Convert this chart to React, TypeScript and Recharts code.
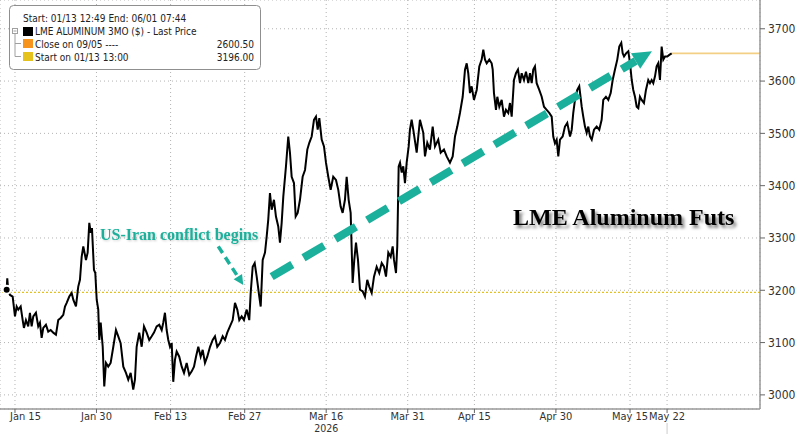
import React from "react";
import { LineChart, Line, XAxis, YAxis, CartesianGrid, ReferenceLine } from "recharts";

// x = trading days counted from Jan 15 (weekends and LME holidays skipped)
const DAYS = [
  -1.12, -1.04, -0.9, -0.67, -0.31, 0, 0.23, 0.45, 0.77, 1.04,
  1.21, 1.48, 1.79, 2.02, 2.25, 2.47, 2.83, 3.14, 3.37, 3.6,
  3.82, 4.18, 4.49, 4.82, 5.17, 5.53, 5.84, 6.17, 6.52, 6.75,
  6.98, 7.33, 7.65, 7.87, 8.23, 8.54, 8.77, 9.0, 9.22, 9.58,
  9.81, 10.03, 10.22, 10.39, 10.66, 10.84, 11.03, 11.24, 11.38, 11.57,
  11.84, 12.05, 12.28, 12.59, 12.91, 13.27, 13.63, 13.94, 14.26, 14.62,
  14.98, 15.29, 15.61, 15.96, 16.19, 16.42, 16.77, 17.1, 17.41, 17.77,
  18.12, 18.45, 18.76, 19.12, 19.47, 19.8, 20.01, 20.24, 20.47, 20.69,
  20.92, 21.15, 21.36, 21.59, 21.82, 22.17, 22.5, 22.81, 23.17, 23.52,
  23.85, 24.16, 24.43, 24.74, 25.06, 25.33, 25.64, 25.95, 26.32, 26.68,
  26.99, 27.3, 27.66, 28.03, 28.34, 28.65, 29.01, 29.38, 29.69, 30.0,
  30.27, 30.59, 30.9, 31.27, 31.62, 31.81, 32.08, 32.35, 32.62, 32.97,
  33.16, 33.43, 33.74, 33.97, 34.18, 34.41, 34.64, 34.95, 35.22, 35.53,
  35.76, 35.99, 36.21, 36.57, 36.88, 37.11, 37.34, 37.65, 37.88, 38.15,
  38.46, 38.82, 39.14, 39.45, 39.72, 40.04, 40.35, 40.62, 40.85, 41.07,
  41.39, 41.7, 41.97, 42.28, 42.6, 42.95, 43.32, 43.63, 43.95, 44.22,
  44.53, 44.76, 45.03, 45.3, 45.57, 45.79, 46.02, 46.29, 46.56, 46.92,
  47.23, 47.54, 47.81, 48.14, 48.45, 48.81, 49.16, 49.49, 49.8, 50.07,
  50.38, 50.7, 50.97, 51.15, 51.42, 51.59, 51.78, 51.96, 52.19, 52.4,
  52.63, 52.86, 53.13, 53.3, 53.53, 53.75, 54.21, 54.65, 55.1, 55.33,
  55.64, 56.0, 56.37, 56.68, 57.12, 57.45, 57.89, 58.26, 58.7, 59.07,
  59.38, 59.69, 60.05, 60.42, 60.73, 60.96, 61.17, 61.4, 61.63, 61.94,
  62.31, 62.66, 62.98, 63.2, 63.43, 63.66, 64.01, 64.33, 64.47, 64.64,
  64.91, 65.09, 65.36, 65.68, 65.99, 66.26, 66.57, 66.8, 67.03, 67.34,
  67.61, 67.88, 68.15, 68.38, 68.69, 68.96, 69.27, 69.5, 69.73, 69.94,
  70.17, 70.4, 70.75, 71.08, 71.39, 71.75, 72.1, 72.43, 72.64, 72.87,
  73.1, 73.32, 73.55, 73.91, 74.22, 74.53, 74.9, 75.13, 75.34, 75.57,
  75.88, 76.15, 76.48, 76.69, 76.92, 77.15, 77.37, 77.6, 77.83, 78.14,
  78.5, 78.85, 79.17, 79.39, 79.75, 80.07, 80.39, 80.66, 80.97, 81.28,
  81.55, 81.82, 82.01, 82.19, 82.46, 82.77, 83.0, 83.23, 83.44, 83.67,
  83.9, 84.12, 84.34, 84.57, 84.88, 85.15, 85.46, 85.69, 85.92, 86.14,
  86.37, 86.59, 86.81, 87.04, 87.27, 87.49, 87.72, 88.03, 88.3, 88.62,
];

const PRICES = [
  3201, 3223, 3198, 3191, 3188, 3150, 3169, 3163, 3169, 3143,
  3128, 3143, 3131, 3157, 3131, 3150, 3157, 3131, 3138, 3109,
  3128, 3134, 3121, 3124, 3119, 3115, 3143, 3147, 3153, 3169,
  3176, 3188, 3195, 3182, 3169, 3207, 3220, 3264, 3284, 3258,
  3272, 3329, 3310, 3319, 3239, 3233, 3182, 3163, 3105, 3138,
  3092, 3016, 3061, 3054, 3061, 3092, 3124, 3112, 3099, 3054,
  3042, 3029, 3042, 3010, 3029, 3092, 3119, 3092, 3131, 3119,
  3105, 3112, 3119, 3131, 3134, 3124, 3138, 3157, 3124, 3105,
  3092, 3099, 3025, 3067, 3083, 3073, 3054, 3042, 3061, 3038,
  3045, 3054, 3073, 3092, 3073, 3086, 3061, 3073, 3092, 3105,
  3112, 3092, 3099, 3112, 3105, 3119, 3131, 3143, 3176, 3163,
  3143, 3150, 3143, 3163, 3143, 3195, 3245, 3252, 3226, 3188,
  3169, 3258, 3272, 3303, 3335, 3386, 3354, 3373, 3341, 3322,
  3291, 3329, 3379, 3437, 3494, 3463, 3417, 3405, 3341, 3348,
  3373, 3417, 3430, 3469, 3482, 3494, 3526, 3532, 3507, 3529,
  3488, 3475, 3444, 3417, 3392, 3417, 3411, 3392, 3360, 3348,
  3373, 3417, 3373, 3348, 3214, 3258, 3291, 3258, 3201, 3198,
  3188, 3220, 3207, 3195, 3226, 3245, 3233, 3252, 3245, 3226,
  3272, 3264, 3284, 3258, 3233, 3284, 3437, 3444, 3425, 3437,
  3405, 3444, 3475, 3507, 3526, 3507, 3463, 3526, 3501, 3456,
  3482, 3469, 3513, 3475, 3488, 3463, 3469, 3456, 3444, 3456,
  3494, 3513, 3539, 3570, 3622, 3634, 3615, 3577, 3590, 3564,
  3583, 3628, 3641, 3660, 3641, 3634, 3641, 3634, 3622, 3577,
  3545, 3570, 3551, 3564, 3532, 3545, 3539, 3558, 3532, 3602,
  3615, 3622, 3596, 3615, 3602, 3618, 3596, 3615, 3596, 3622,
  3628, 3596, 3583, 3570, 3551, 3545, 3539, 3532, 3494, 3481,
  3488, 3456, 3488, 3494, 3513, 3520, 3494, 3507, 3539, 3564,
  3583, 3590, 3551, 3532, 3513, 3501, 3513, 3494, 3488, 3507,
  3513, 3507, 3526, 3564, 3570, 3564, 3577, 3602, 3622, 3641,
  3666, 3673, 3653, 3647, 3653, 3657, 3634, 3602, 3583, 3570,
  3551, 3548, 3570, 3564, 3558, 3583, 3602, 3596, 3602, 3596,
  3609, 3628, 3634, 3602, 3666, 3641, 3647, 3647, 3650, 3653,
];

const TICK_DAYS = [0, 11, 21, 31, 42, 53, 62, 73, 83, 88];
const TICK_LABELS = ["Jan 15", "Jan 30", "Feb 13", "Feb 27", "Mar 16", "Mar 31", "Apr 15", "Apr 30", "May 15", "May 22"];
const PRICE_TICKS = [3000, 3100, 3200, 3300, 3400, 3500, 3600, 3700];

const START_PRICE = 3196;
const LAST_PRICE = 3653;

// annotation arrows, in chart units: [day, price]
const TREND_ARROW = [[34.64, 3226], [85.96, 3657]];
const CONFLICT_ARROW = [[27.43, 3284], [30.81, 3210]];

const X_DOMAIN = [-2.02, 100.54];
const Y_DOMAIN = [2973, 3755];

const TEAL = "#1bb09b";
const AXIS_FONT = "DejaVu Sans Condensed, DejaVu Sans, sans-serif";

const data = DAYS.map((day, i) => ({ day, price: PRICES[i] }));
const lastDay = DAYS[DAYS.length - 1];

const makeArrow = (width: number, dash: string, headLen: number, headHalf: number) => (props: any) => {
  const { x1, y1, x2, y2 } = props;
  const dx = x2 - x1;
  const dy = y2 - y1;
  const len = Math.hypot(dx, dy) || 1;
  const ux = dx / len;
  const uy = dy / len;
  const bx = x2 - ux * headLen;
  const by = y2 - uy * headLen;
  const px = -uy * headHalf;
  const py = ux * headHalf;
  return (
    <g>
      <line x1={x1} y1={y1} x2={bx} y2={by} stroke={TEAL} strokeWidth={width} strokeDasharray={dash} />
      <polygon points={`${x2},${y2} ${bx + px},${by + py} ${bx - px},${by - py}`} fill={TEAL} />
    </g>
  );
};

const XTick = (props: any) => {
  const { x, y, payload, index } = props;
  const label = TICK_LABELS[TICK_DAYS.indexOf(payload.value)];
  const first = index === 0;
  return (
    <g>
      <text
        x={first ? x - 5 : x}
        y={y + 6.5}
        textAnchor={first ? "start" : "middle"}
        fontSize={11}
        fontFamily={AXIS_FONT}
        fill="#333"
      >
        {label}
      </text>
      {label === "Mar 16" && (
        <text x={x} y={y + 19.2} textAnchor="middle" fontSize={10.5} fontFamily={AXIS_FONT} fill="#333">
          2026
        </text>
      )}
      {label === "May 22" && <line x1={x} y1={y + 10} x2={x} y2={y + 24} stroke="#ccc" />}
    </g>
  );
};

const Overlay = () => (
  <svg width={800} height={434} style={{ position: "absolute", left: 0, top: 0, pointerEvents: "none" }}>
    <defs>
      <filter id="titleShadow" x="-10%" y="-30%" width="120%" height="170%">
        <feDropShadow dx={2.5} dy={3} stdDeviation={1.6} floodColor="#000" floodOpacity={0.5} />
      </filter>
      <filter id="noteShadow" x="-10%" y="-30%" width="120%" height="170%">
        <feDropShadow dx={1} dy={1} stdDeviation={0.8} floodColor="#000" floodOpacity={0.2} />
      </filter>
    </defs>

    {/* legend box */}
    <rect x={9.5} y={5.5} width={251} height={64} rx={4} fill="#fff" stroke="#8f8f8f" />
    <g fontFamily={AXIS_FONT} fontSize={10} fill="#222">
      <text x={23} y={21.5}>Start: 01/13 12:49 End: 06/01 07:44</text>
      <text x={35} y={35}>LME ALUMINUM 3MO ($) - Last Price</text>
      <text x={35} y={47.5}>Close on 09/05 ----</text>
      <text x={254} y={47.5} textAnchor="end">2600.50</text>
      <text x={35} y={60.5}>Start on 01/13 13:00</text>
      <text x={254} y={60.5} textAnchor="end">3196.00</text>
    </g>
    <g stroke="#a0a0a0" strokeWidth={1} fill="none">
      <rect x={12.5} y={28.5} width={5} height={5} />
      <line x1={13.5} y1={31} x2={16.5} y2={31} />
      <line x1={15} y1={33.5} x2={15} y2={56.5} />
      <line x1={15} y1={43.5} x2={21} y2={43.5} />
      <line x1={15} y1={56.5} x2={21} y2={56.5} />
    </g>
    <rect x={23} y={27} width={10} height={9} fill="#000" />
    <rect x={23} y={39} width={10} height={9} fill="#f7941d" />
    <rect x={23} y={52} width={10} height={9} fill="#e6c21c" />

    <text
      x={513}
      y={225}
      fontFamily="Liberation Serif, Times New Roman, serif"
      fontWeight={700}
      fontSize={24}
      fill="#000"
      filter="url(#titleShadow)"
    >
      LME Aluminum Futs
    </text>
    <text
      x={100}
      y={240}
      fontFamily="Liberation Serif, Times New Roman, serif"
      fontWeight={700}
      fontSize={16}
      fill={TEAL}
      filter="url(#noteShadow)"
    >
      US-Iran conflict begins
    </text>
  </svg>
);

export default function App() {
  return (
    <div style={{ position: "absolute", left: 0, top: 0, width: 800, height: 434, background: "#fff" }}>
      <LineChart width={800} height={434} data={data} margin={{ top: 0, right: 0, bottom: 0, left: 0 }}>
        <CartesianGrid stroke="#b3b3b3" strokeDasharray="1 3" />
        <XAxis
          type="number"
          dataKey="day"
          domain={X_DOMAIN}
          ticks={TICK_DAYS}
          allowDataOverflow
          interval={0}
          height={25}
          tickSize={4}
          tickMargin={0}
          tick={<XTick />}
          axisLine={{ stroke: "#999", strokeWidth: 1.5 }}
          tickLine={{ stroke: "#666" }}
        />
        <YAxis
          orientation="right"
          type="number"
          domain={Y_DOMAIN}
          ticks={PRICE_TICKS}
          allowDataOverflow
          width={40}
          tickSize={5}
          tickMargin={3}
          tick={{ fontSize: 12, fill: "#333", fontFamily: AXIS_FONT }}
          axisLine={{ stroke: "#999", strokeWidth: 1.5 }}
          tickLine={{ stroke: "#666" }}
        />
        <ReferenceLine y={START_PRICE} stroke="#e6c21c" strokeDasharray="2 2" strokeWidth={1.3} />
        <ReferenceLine
          segment={[{ x: lastDay, y: LAST_PRICE }, { x: X_DOMAIN[1], y: LAST_PRICE }]}
          stroke="#f3cf86"
          strokeWidth={1.6}
        />
        <Line
          type="linear"
          dataKey="price"
          stroke="#000"
          strokeWidth={2}
          dot={false}
          isAnimationActive={false}
        />
        <ReferenceLine
          segment={TREND_ARROW.map(([x, y]) => ({ x, y }))}
          shape={makeArrow(8, "24 13", 19, 9)}
        />
        <ReferenceLine
          segment={CONFLICT_ARROW.map(([x, y]) => ({ x, y }))}
          shape={makeArrow(3.5, "8 5", 10, 5)}
        />
      </LineChart>
      <Overlay />
    </div>
  );
}
